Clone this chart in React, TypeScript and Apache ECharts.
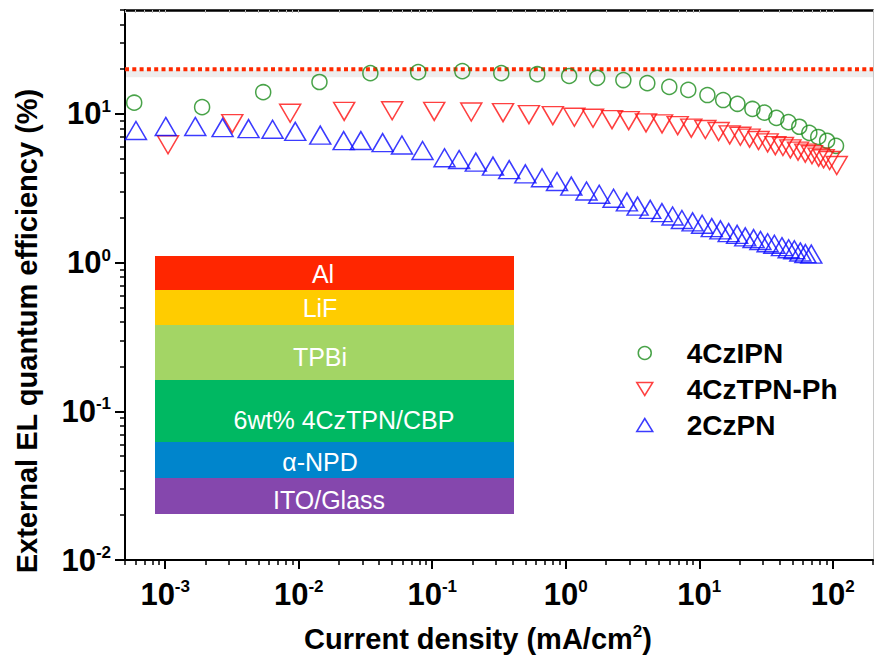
import { useEffect, useRef } from "react";
import * as echarts from "echarts";

const FONT = '"Liberation Sans", Arial, Helvetica, sans-serif';

// Current density (mA/cm^2) and external quantum efficiency (%) of each device
const j4CzIPN = [5.86e-4, 1.89e-3, 5.42e-3, 0.0143, 0.0344, 0.0785, 0.168, 0.329, 0.612, 1.06, 1.72, 2.7, 4.08, 5.96, 8.27, 11.5, 15.1, 19.3, 25.0, 30.7, 37.8, 46.5, 56.1, 66.7, 77.8, 90.6, 105.7];
const eqe4CzIPN = [11.9, 11.1, 14.0, 16.4, 18.8, 19.1, 19.4, 18.8, 18.5, 18.0, 17.5, 16.9, 16.1, 15.2, 14.5, 13.4, 12.4, 11.7, 10.8, 10.2, 9.4, 8.8, 8.2, 7.45, 7.0, 6.6, 6.1];

const j4CzTPNPh = [1.05e-3, 3.18e-3, 8.63e-3, 0.0219, 0.0501, 0.1035, 0.196, 0.339, 0.53, 0.8, 1.16, 1.6, 2.22, 2.96, 3.99, 5.26, 6.89, 8.71, 11.1, 13.96, 16.9, 20.3, 23.8, 27.8, 32.5, 37.1, 42.3, 48.1, 54.9, 62.2, 69.8, 78.3, 85.4, 94.6, 107];
const eqe4CzTPNPh = [6.2, 8.6, 10.1, 10.4, 10.5, 10.4, 10.3, 10.2, 9.9, 9.74, 9.5, 9.36, 9.16, 9.02, 8.7, 8.57, 8.35, 8.02, 7.85, 7.61, 7.23, 7.08, 6.87, 6.62, 6.39, 6.12, 6.04, 5.82, 5.62, 5.45, 5.31, 5.12, 4.99, 4.86, 4.5];

const j2CzPN = [6.04e-4, 1.01e-3, 1.68e-3, 2.69e-3, 4.21e-3, 6.37e-3, 9.42e-3, 0.0145, 0.0217, 0.0292, 0.0425, 0.0593, 0.0846, 0.1236, 0.159, 0.212, 0.285, 0.377, 0.498, 0.664, 0.86, 1.1, 1.43, 1.78, 2.28, 2.87, 3.45, 4.29, 5.25, 6.31, 7.41, 8.91, 10.5, 12.4, 14.4, 16.6, 19.2, 22.1, 25.5, 28.7, 32.5, 36.5, 41.6, 46.7, 51.5, 57.1, 62.3, 69.0];
const eqe2CzPN = [7.74, 8.24, 8.24, 8.09, 7.96, 7.89, 7.63, 7.2, 6.61, 6.62, 6.41, 6.18, 5.68, 5.07, 4.94, 4.74, 4.46, 4.22, 3.95, 3.72, 3.51, 3.27, 3.03, 2.88, 2.71, 2.56, 2.4, 2.28, 2.17, 2.06, 1.95, 1.88, 1.81, 1.72, 1.66, 1.59, 1.55, 1.49, 1.45, 1.41, 1.36, 1.33, 1.28, 1.24, 1.22, 1.18, 1.15, 1.14];

const seriesNames = ["4CzIPN", "4CzTPN-Ph", "2CzPN"];

// Theoretical EQE ceiling (%)
const eqeLimit = 20;

// Axis ranges and tick values
const xRange = [5e-4, 200];
const yRange = [0.01, 50];
const xMajorTicks = [1e-3, 1e-2, 1e-1, 1, 10, 100];
const yMajorTicks = [1e-2, 1e-1, 1, 10];
const minorMultipliers = [2, 3, 4, 5, 6, 7, 8, 9];

// Device structure, top to bottom
const layerNames = ["Al", "LiF", "TPBi", "6wt% 4CzTPN/CBP", "α-NPD", "ITO/Glass"];

// ---- styling / layout ----
const colors = ["#1c8c1c", "#ff1010", "#0a0aff"];
const layerColors = ["#ff2600", "#ffcc00", "#a3d565", "#00b862", "#0085cc", "#8547ad"];
const stackLeft = 155;
const stackTop = 256;
const stackWidth = 359;
const layerHeights = [34, 35, 55, 62, 36, 36];
const layerTextX = [323, 320, 320, 344, 320, 329];
const layerTextDy = [1, 0, 4, 9, 2, 4];
// soft drop shade under the dotted limit line (fraction of the value, i.e. a few px lower on the log axis)
const hazeDrop = 0.93;

const legendIcons = [
  "circle",
  "path://M0,0L20,0L10,17Z",
  "path://M10,0L20,17L0,17Z",
];

function minorTicks(range: number[]): number[] {
  const out: number[] = [];
  for (let e = -5; e <= 3; e++) {
    for (const m of minorMultipliers) {
      const v = parseFloat((m * Math.pow(10, e)).toPrecision(6));
      if (v >= range[0] * 0.999 && v <= range[1] * 1.001) out.push(v);
    }
  }
  return out;
}

const pairs = (xs: number[], ys: number[]) => xs.map((x, i) => [x, ys[i]]);

const powLabel = (v: number) => `{b|10}{s|${Math.round(Math.log10(v))}}`;

const labelRich = {
  b: { fontSize: 31, fontWeight: "bold", fontFamily: FONT, color: "#000", lineHeight: 32 },
  s: { fontSize: 17, fontWeight: "bold", fontFamily: FONT, color: "#000", verticalAlign: "top", lineHeight: 15 },
};

function buildOption() {
  const xMinor = minorTicks(xRange);
  const yMinor = minorTicks(yRange);

  const hollow = (c: string) => ({ color: "rgba(0,0,0,0)", borderColor: c, borderWidth: 1.5 });

  const graphic: any[] = [];
  let y = stackTop;
  layerNames.forEach((name, i) => {
    const h = layerHeights[i];
    graphic.push({
      type: "rect",
      shape: { x: stackLeft, y, width: stackWidth, height: h },
      style: { fill: layerColors[i] },
      z: 1,
    });
    graphic.push({
      type: "text",
      x: layerTextX[i],
      y: y + h / 2 + layerTextDy[i],
      style: {
        text: name,
        fill: "#fff",
        font: `25px ${FONT}`,
        textAlign: "center",
        verticalAlign: "middle",
      },
      z: 2,
    });
    y += h;
  });

  return {
    animation: false,
    backgroundColor: "#fff",
    grid: { left: 125, right: 1, top: 10, bottom: 102, outerBoundsMode: "none", containLabel: false },
    legend: {
      orient: "vertical",
      left: 631,
      top: 334,
      itemWidth: 16,
      itemHeight: 13,
      itemGap: 8,
      symbolKeepAspect: false,
      data: seriesNames.map((n, i) => ({ name: n, icon: legendIcons[i], itemStyle: hollow(colors[i]) })),
      textStyle: {
        fontSize: 28,
        fontWeight: "bold",
        fontFamily: FONT,
        color: "#000",
        lineHeight: 27,
        padding: [0, 0, 0, 29],
      },
    },
    xAxis: [
      {
        type: "log",
        logBase: 10,
        min: xRange[0],
        max: xRange[1],
        position: "bottom",
        name: "{t|Current density (mA/cm}{s|2}{t|)}",
        nameLocation: "middle",
        nameGap: 63,
        nameTextStyle: {
          padding: [0, 42, 0, 0],
          rich: {
            t: { fontSize: 29, fontWeight: "bold", fontFamily: FONT, color: "#000", lineHeight: 32 },
            s: { fontSize: 17, fontWeight: "bold", fontFamily: FONT, color: "#000", verticalAlign: "top", lineHeight: 16 },
          },
        },
        axisLine: { show: true, lineStyle: { color: "#000", width: 2 } },
        axisTick: { show: true, customValues: xMajorTicks, length: 9, lineStyle: { color: "#000", width: 2 } },
        axisLabel: { customValues: xMajorTicks, formatter: powLabel, rich: labelRich, margin: 18 },
        splitLine: { show: false },
        minorTick: { show: false },
      },
      {
        type: "log",
        logBase: 10,
        min: xRange[0],
        max: xRange[1],
        position: "bottom",
        axisLine: { show: false },
        axisTick: { show: true, customValues: xMinor, length: 5, lineStyle: { color: "#000", width: 1.5 } },
        axisLabel: { show: false },
        splitLine: { show: false },
      },
      {
        type: "log",
        logBase: 10,
        min: xRange[0],
        max: xRange[1],
        position: "top",
        axisLine: { show: true, lineStyle: { color: "#000", width: 2.5 } },
        axisTick: { show: true, inside: true, customValues: xMinor.concat(xMajorTicks), length: 3, lineStyle: { color: "#bbb", width: 1 } },
        axisLabel: { show: false },
        splitLine: { show: false },
      },
    ],
    yAxis: [
      {
        type: "log",
        logBase: 10,
        min: yRange[0],
        max: yRange[1],
        position: "left",
        name: "External EL quantum efficiency (%)",
        nameLocation: "middle",
        nameGap: 84,
        nameTextStyle: {
          fontSize: 29,
          fontWeight: "bold",
          fontFamily: FONT,
          color: "#000",
          padding: [0, 92, 0, 0],
        },
        axisLine: { show: true, lineStyle: { color: "#000", width: 2 } },
        axisTick: { show: true, customValues: yMajorTicks, length: 10, lineStyle: { color: "#000", width: 2 } },
        axisLabel: { customValues: yMajorTicks, formatter: powLabel, rich: labelRich, margin: 14 },
        splitLine: { show: false },
      },
      {
        type: "log",
        logBase: 10,
        min: yRange[0],
        max: yRange[1],
        position: "left",
        axisLine: { show: false },
        axisTick: { show: true, customValues: yMinor, length: 5, lineStyle: { color: "#000", width: 1.5 } },
        axisLabel: { show: false },
        splitLine: { show: false },
      },
      {
        type: "log",
        logBase: 10,
        min: yRange[0],
        max: yRange[1],
        position: "right",
        axisLine: { show: true, lineStyle: { color: "#c8c8c8", width: 1 } },
        axisTick: { show: false },
        axisLabel: { show: false },
        splitLine: { show: false },
      },
    ],
    series: [
      {
        name: "limit-shade",
        type: "line",
        data: [
          [xRange[0], eqeLimit * hazeDrop],
          [xRange[1], eqeLimit * hazeDrop],
        ],
        symbol: "none",
        silent: true,
        z: 1,
        lineStyle: { color: "rgba(0,0,0,0.07)", width: 7 },
      },
      {
        name: "limit",
        type: "line",
        data: [
          [xRange[0], eqeLimit],
          [xRange[1], eqeLimit],
        ],
        symbol: "none",
        silent: true,
        z: 2,
        lineStyle: { color: "#ff2a00", width: 4, type: [4, 3.3] },
      },
      {
        name: seriesNames[0],
        type: "scatter",
        data: pairs(j4CzIPN, eqe4CzIPN),
        symbol: "circle",
        symbolSize: 15,
        itemStyle: hollow(colors[0]),
        z: 3,
      },
      {
        name: seriesNames[1],
        type: "scatter",
        data: pairs(j4CzTPNPh, eqe4CzTPNPh),
        symbol: "triangle",
        symbolRotate: 180,
        symbolSize: [21, 18],
        itemStyle: hollow(colors[1]),
        z: 3,
      },
      {
        name: seriesNames[2],
        type: "scatter",
        data: pairs(j2CzPN, eqe2CzPN),
        symbol: "triangle",
        symbolSize: [21, 18],
        itemStyle: hollow(colors[2]),
        z: 3,
      },
    ],
    graphic,
  };
}

export default function App() {
  const ref = useRef<HTMLDivElement>(null);
  useEffect(() => {
    if (!ref.current) return;
    const chart = echarts.init(ref.current, undefined, { renderer: "svg" });
    chart.setOption(buildOption() as any);
    return () => chart.dispose();
  }, []);
  return (
    <div
      ref={ref}
      style={{ position: "fixed", left: 0, top: 0, width: 874, height: 662, background: "#fff" }}
    />
  );
}
